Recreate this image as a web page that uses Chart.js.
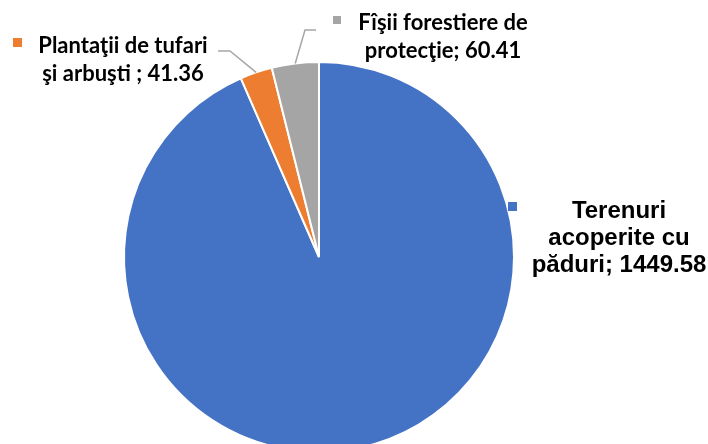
<!DOCTYPE html>
<html>
<head>
<meta charset="utf-8">
<script src="https://cdn.jsdelivr.net/npm/chart.js@4/dist/chart.umd.min.js"></script>
<style>
html,body{margin:0;padding:0;background:#fff;}
#wrap{width:708px;height:444px;overflow:hidden;position:relative;}
</style>
</head>
<body>
<div id="wrap"><canvas id="c" width="708" height="470"></canvas></div>
<script>
const categories = ["Terenuri acoperite cu păduri", "Plantaţii de tufari şi arbuşti", "Fîşii forestiere de protecţie"];
const values = [1449.58, 41.36, 60.41];
const labelLines = [
  ["Terenuri", "acoperite cu", "păduri; 1449.58"],
  ["Plantaţii de tufari", "şi arbuşti ; 41.36"],
  ["Fîşii forestiere de", "protecţie; 60.41"]
];
const colors = ["#4472C4", "#ED7D31", "#A5A5A5"];

// label layout (positions of text blocks, markers, leader elbows)
const labelLayout = [
  {font: "bold 24px 'Liberation Sans', Arial, sans-serif", cx: 619, baselines: [218, 245, 272], marker: [508, 202, 9], leader: null},
  {font: "bold 22px Lato, sans-serif", cx: 123, baselines: [53, 81], marker: [13, 38, 9], leader: {elbow: [230, 51], end: [218, 51]}},
  {font: "bold 22px Lato, sans-serif", cx: 443, baselines: [30, 58], marker: [333, 16, 8], leader: {elbow: [305, 30], end: [316, 30]}}
];

const labelPlugin = {
  id: 'labels',
  afterDraw(chart) {
    const ctx = chart.ctx;
    const meta = chart.getDatasetMeta(0);
    ctx.save();
    labelLayout.forEach((L, i) => {
      const arc = meta.data[i];
      if (L.leader) {
        const mid = (arc.startAngle + arc.endAngle) / 2;
        const r = arc.outerRadius;
        const px = arc.x + Math.cos(mid) * r;
        const py = arc.y + Math.sin(mid) * r;
        ctx.strokeStyle = "#A6A6A6";
        ctx.lineWidth = 1.5;
        ctx.beginPath();
        ctx.moveTo(px, py);
        ctx.lineTo(L.leader.elbow[0], L.leader.elbow[1]);
        ctx.lineTo(L.leader.end[0], L.leader.end[1]);
        ctx.stroke();
      }
      ctx.fillStyle = colors[i];
      ctx.fillRect(L.marker[0], L.marker[1], L.marker[2], L.marker[2]);
      ctx.fillStyle = "#000";
      ctx.textAlign = "center";
      ctx.textBaseline = "alphabetic";
      ctx.font = L.font;
      labelLines[i].forEach((t, j) => {
        ctx.fillText(t, L.cx, L.baselines[j]);
      });
    });
    ctx.restore();
  }
};

new Chart(document.getElementById('c'), {
  type: 'pie',
  data: {
    labels: categories,
    datasets: [{
      data: values,
      backgroundColor: colors,
      borderColor: "#ffffff",
      borderWidth: 2,
      radius: 195
    }]
  },
  options: {
    responsive: false,
    animation: false,
    events: [],
    layout: {padding: {left: 124, right: 194, top: 62, bottom: 18}},
    plugins: {legend: {display: false}, tooltip: {enabled: false}}
  },
  plugins: [labelPlugin]
});
</script>
</body>
</html>
